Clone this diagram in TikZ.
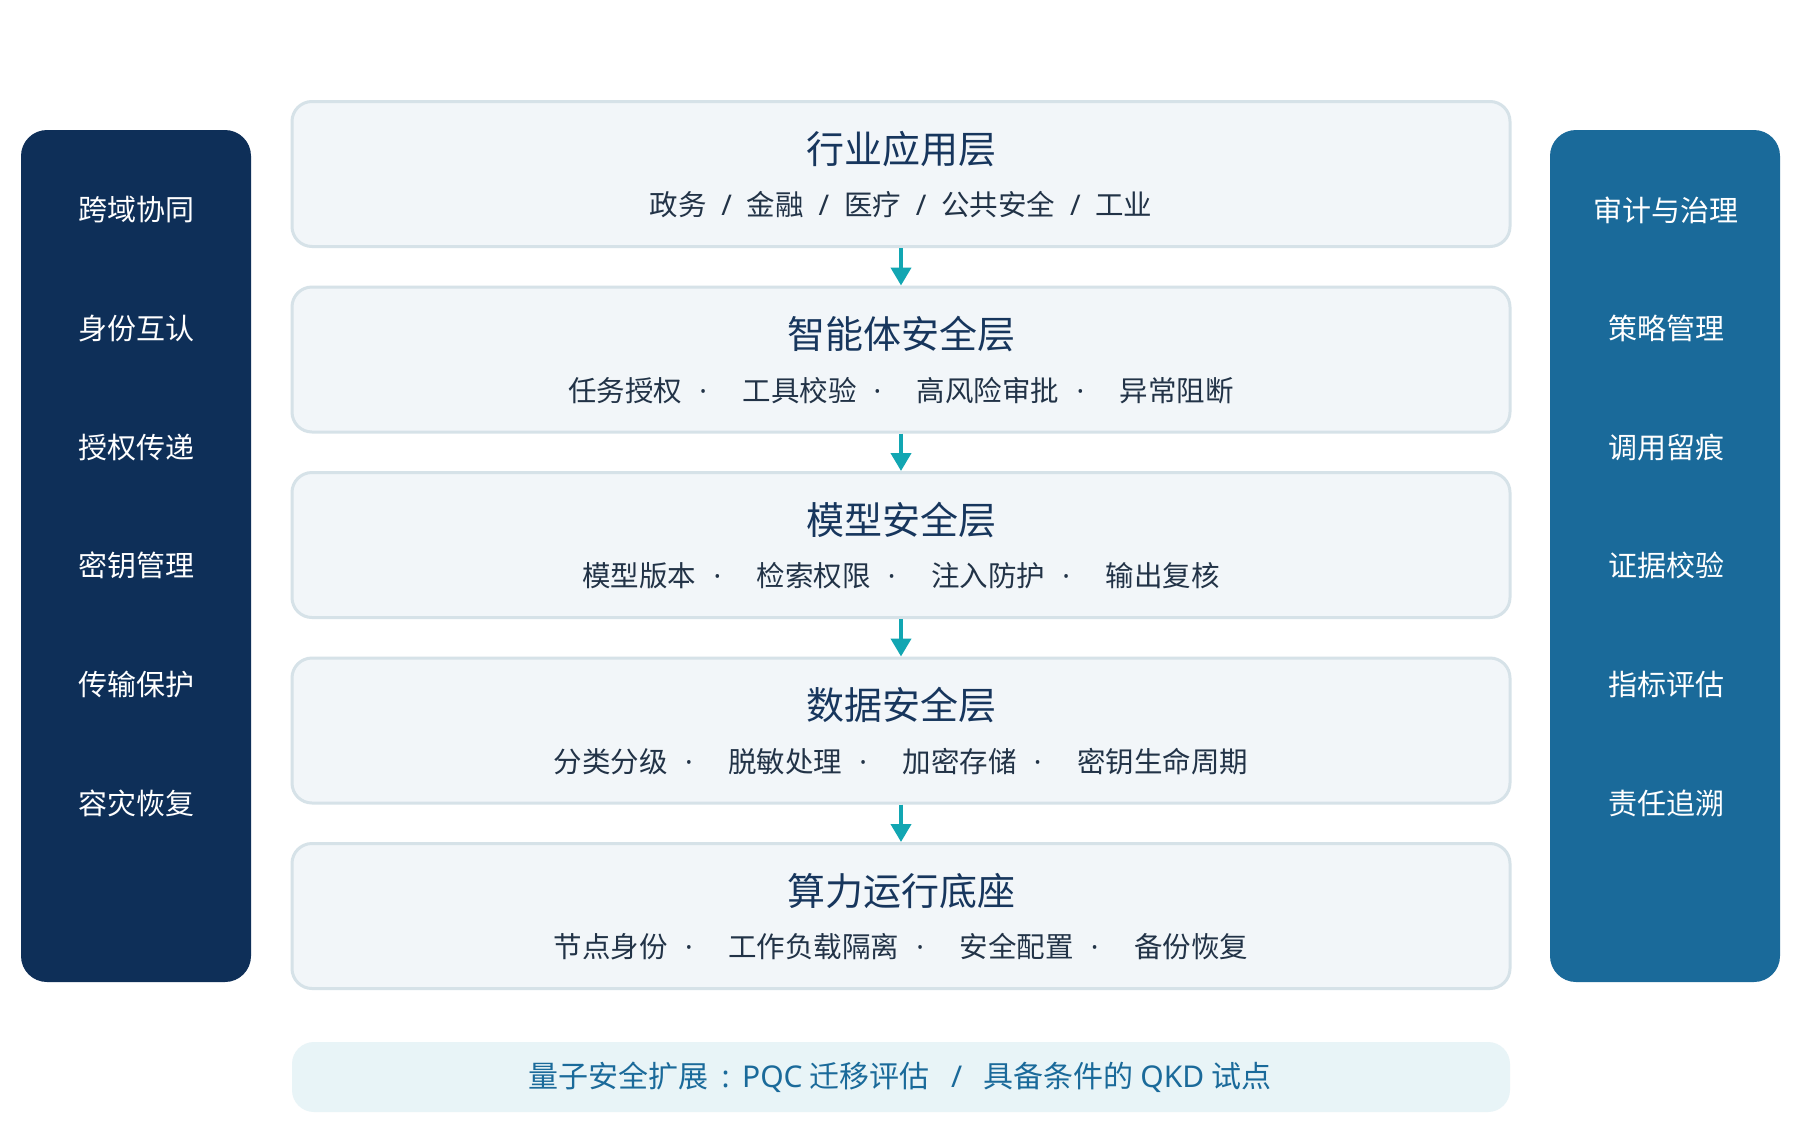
\documentclass[tikz,border=0pt]{standalone}
\usepackage{fontspec}
\setmainfont{Noto Sans CJK SC}
\newfontfamily\latinf{Noto Sans}
\usetikzlibrary{arrows.meta}
\definecolor{navy}{HTML}{0E2F58}
\definecolor{steel}{HTML}{1A6A9A}
\definecolor{boxfill}{HTML}{F2F6F9}
\definecolor{boxline}{HTML}{D6E2E8}
\definecolor{titlec}{HTML}{17365D}
\definecolor{subc}{HTML}{223347}
\definecolor{teal}{HTML}{12A6B2}
\definecolor{qfill}{HTML}{E8F4F7}
\tikzset{
  layerbox/.style={draw=boxline, line width=3pt, fill=boxfill, rounded corners=20pt, minimum width=1218pt, minimum height=145pt, inner sep=0pt},
  sidepanel/.style={rounded corners=26pt, minimum width=230pt, minimum height=852pt, inner sep=0pt},
  titletxt/.style={text=titlec, font=\fontsize{38}{44}\selectfont},
  subtxt/.style={text=subc, font=\fontsize{28.5}{34}\selectfont},
  sidetxt/.style={text=white, font=\fontsize{29}{34}\selectfont},
  flow/.style={draw=teal, line width=4pt, -{Triangle[length=18pt,width=20pt]}},
}
\newcommand{\dsep}{\hspace{0.6em}{\latinf\bfseries ·}\hspace{1.25em}}
\newcommand{\ssep}{\hspace{0.52em}{\latinf /}\hspace{0.52em}}
\begin{document}
\begin{tikzpicture}[x=1pt,y=-1pt]
\useasboundingbox (0,0) rectangle (1800,1120);
\fill[white] (0,0) rectangle (1800,1120);
% side panels
\node[sidepanel, fill=navy] (lp) at (136,556) {};
\node[sidepanel, fill=steel] (rp) at (1665,556) {};
\foreach \t [count=\i from 0] in {跨域协同,身份互认,授权传递,密钥管理,传输保护,容灾恢复}
  \node[sidetxt] (l\i) at (136,{210+118.6*\i}) {\t};
\foreach \t [count=\i from 0] in {审计与治理,策略管理,调用留痕,证据校验,指标评估,责任追溯}
  \node[sidetxt] (r\i) at (1666,{210+118.6*\i}) {\t};
% layers
\node[layerbox] (b1) at (901,174) {};
\node[layerbox] (b2) at (901,359.5) {};
\node[layerbox] (b3) at (901,545) {};
\node[layerbox] (b4) at (901,730.5) {};
\node[layerbox] (b5) at (901,916) {};
\node[titletxt] (t1) at (901,149) {行业应用层};
\node[subtxt] (s1) at (901,205) {政务\ssep 金融\ssep 医疗\ssep 公共安全\ssep 工业};
\node[titletxt] (t2) at (901,334.5) {智能体安全层};
\node[subtxt] (s2) at (901,390.5) {任务授权\dsep 工具校验\dsep 高风险审批\dsep 异常阻断};
\node[titletxt] (t3) at (901,520) {模型安全层};
\node[subtxt] (s3) at (901,576) {模型版本\dsep 检索权限\dsep 注入防护\dsep 输出复核};
\node[titletxt] (t4) at (901,705.5) {数据安全层};
\node[subtxt] (s4) at (901,761.5) {分类分级\dsep 脱敏处理\dsep 加密存储\dsep 密钥生命周期};
\node[titletxt] (t5) at (901,891) {算力运行底座};
\node[subtxt] (s5) at (901,947) {节点身份\dsep 工作负载隔离\dsep 安全配置\dsep 备份恢复};
% arrows
\foreach \a/\b in {b1/b2,b2/b3,b3/b4,b4/b5}
  \draw[flow] (\a.south) -- (\b.north);
% quantum box
\node[fill=qfill, rounded corners=22pt, minimum width=1218pt, minimum height=70pt, inner sep=0pt] (q) at (901,1077) {};
\node[text=steel, font=\fontsize{30}{34}\selectfont] (qt) at (900,1077) {量子安全扩展\hspace{0.42em}{\latinf :}\hspace{0.42em}{\latinf PQC} 迁移评估\hspace{0.72em}{\latinf /}\hspace{0.72em}具备条件的 {\latinf QKD} 试点};
\end{tikzpicture}
\end{document}
